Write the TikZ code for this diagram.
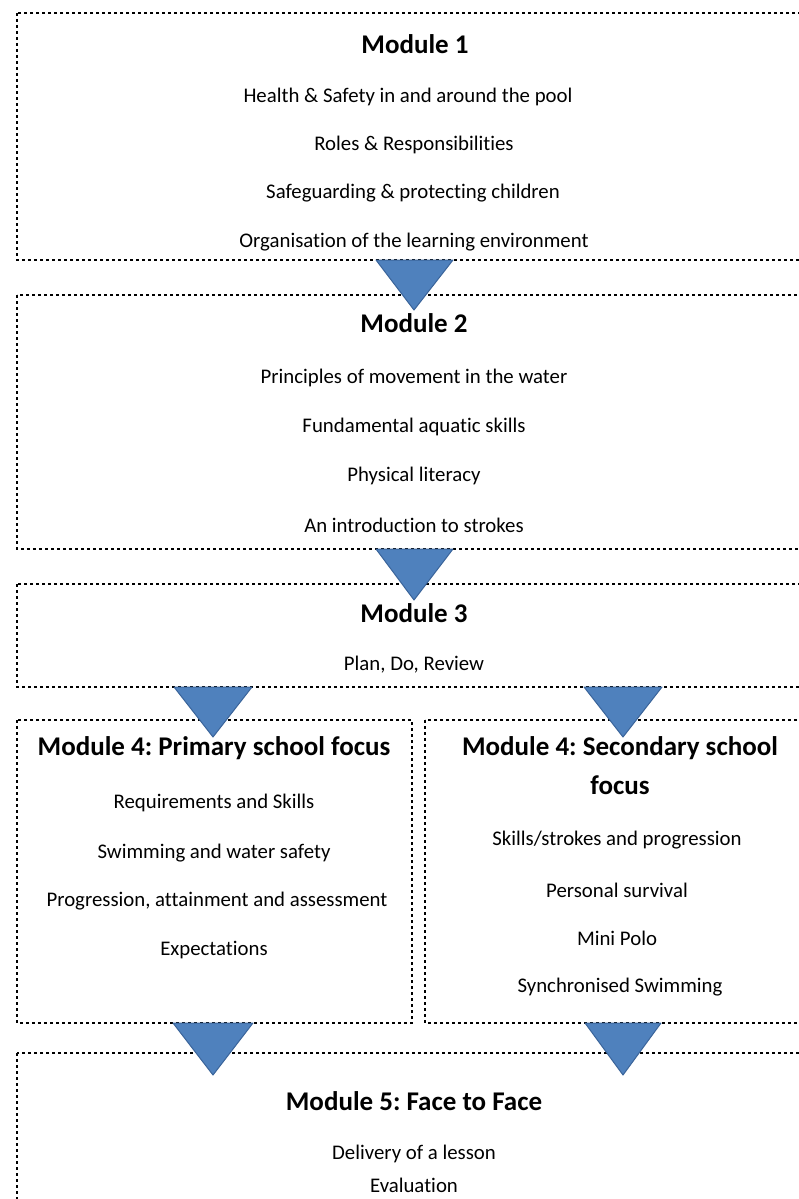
\documentclass[tikz,border=0pt]{standalone}
\usepackage{fontspec}
\setmainfont{Carlito}[Ligatures=NoCommon]
\usetikzlibrary{positioning}
\frenchspacing

\definecolor{tri blue}{HTML}{4F81BD}
\definecolor{tri edge}{HTML}{3A649A}

\begin{document}
\begin{tikzpicture}[x=1pt,y=-1pt,
	dotbox/.style={draw=black, line width=2.8pt, dash pattern=on 2.8pt off 3.2pt},
	flow/.style={fill=tri blue, draw=tri edge, line width=1pt, line join=round},
	title/.style={font=\bfseries\fontsize{27}{31}\selectfont},
	item/.style={font=\fontsize{20.8}{24}\selectfont}]
				\useasboundingbox (0,0) rectangle (798,1199);
				% boxes
				\draw[dotbox] (17,13) rectangle (801,260);
				\draw[dotbox] (17,295) rectangle (801,549);
				\draw[dotbox] (17,584) rectangle (801,687);
				\draw[dotbox] (17,720) rectangle (412,1023);
				\draw[dotbox] (425,720) rectangle (815,1023);
				\draw[dotbox] (17,1053) rectangle (801,1215);
				% module 1
				\node[title] (m1) at (415, 44) {Module 1};
				\node[item] (m1a) at (408, 97) {Health \& Safety in and around the pool};
				\node[item] (m1b) at (414, 145) {Roles \& Responsibilities};
				\node[item] (m1c) at (413, 193) {Safeguarding \& protecting children};
				\node[item] (m1d) at (414, 242) {Organisation of the learning environment};
				% module 2
				\node[title] (m2) at (414, 323) {Module 2};
				\node[item] (m2a) at (414, 378) {Principles of movement in the water};
				\node[item] (m2b) at (414, 427) {Fundamental aquatic skills};
				\node[item] (m2c) at (414, 476) {Physical literacy};
				\node[item] (m2d) at (414, 525) {An introduction to strokes};
				% module 3
				\node[title] (m3) at (414, 613) {Module 3};
				\node[item] (m3a) at (414, 665) {Plan, Do, Review};
				% module 4 primary
				\node[title] (p4) at (214, 748) {Module 4: Primary school focus};
				\node[item] (p4a) at (214, 803) {Requirements and Skills};
				\node[item] (p4b) at (214, 853) {Swimming and water safety};
				\node[item] (p4c) at (217, 901) {Progression, attainment and assessment};
				\node[item] (p4d) at (214, 950) {Expectations};
				% module 4 secondary
				\node[title] (s4) at (620, 748) {Module 4: Secondary school};
				\node[title] (s4b) at (620, 785) {focus};
				\node[item] (s4c) at (617, 840) {Skills/strokes and progression};
				\node[item] (s4d) at (617, 890) {Personal survival};
				\node[item] (s4e) at (617, 938) {Mini Polo};
				\node[item] (s4f) at (620, 987) {Synchronised Swimming};
				% module 5
				\node[title] (m5) at (414, 1101) {Module 5: Face to Face};
				\node[item] (m5a) at (414, 1154) {Delivery of a lesson};
				\node[item] (m5b) at (414, 1185) {Evaluation};
				% arrows
				\draw[flow] (376,260) -- (453,260) -- (414,310) -- cycle;
				\draw[flow] (376,549) -- (453,549) -- (414,600) -- cycle;
				\draw[flow] (174,687) -- (252,687) -- (213,737) -- cycle;
				\draw[flow] (584,687) -- (662,687) -- (623,737) -- cycle;
				\draw[flow] (173,1023) -- (253,1023) -- (213,1075) -- cycle;
				\draw[flow] (585,1023) -- (661,1023) -- (623,1075) -- cycle;
			\end{tikzpicture}
\end{document}
